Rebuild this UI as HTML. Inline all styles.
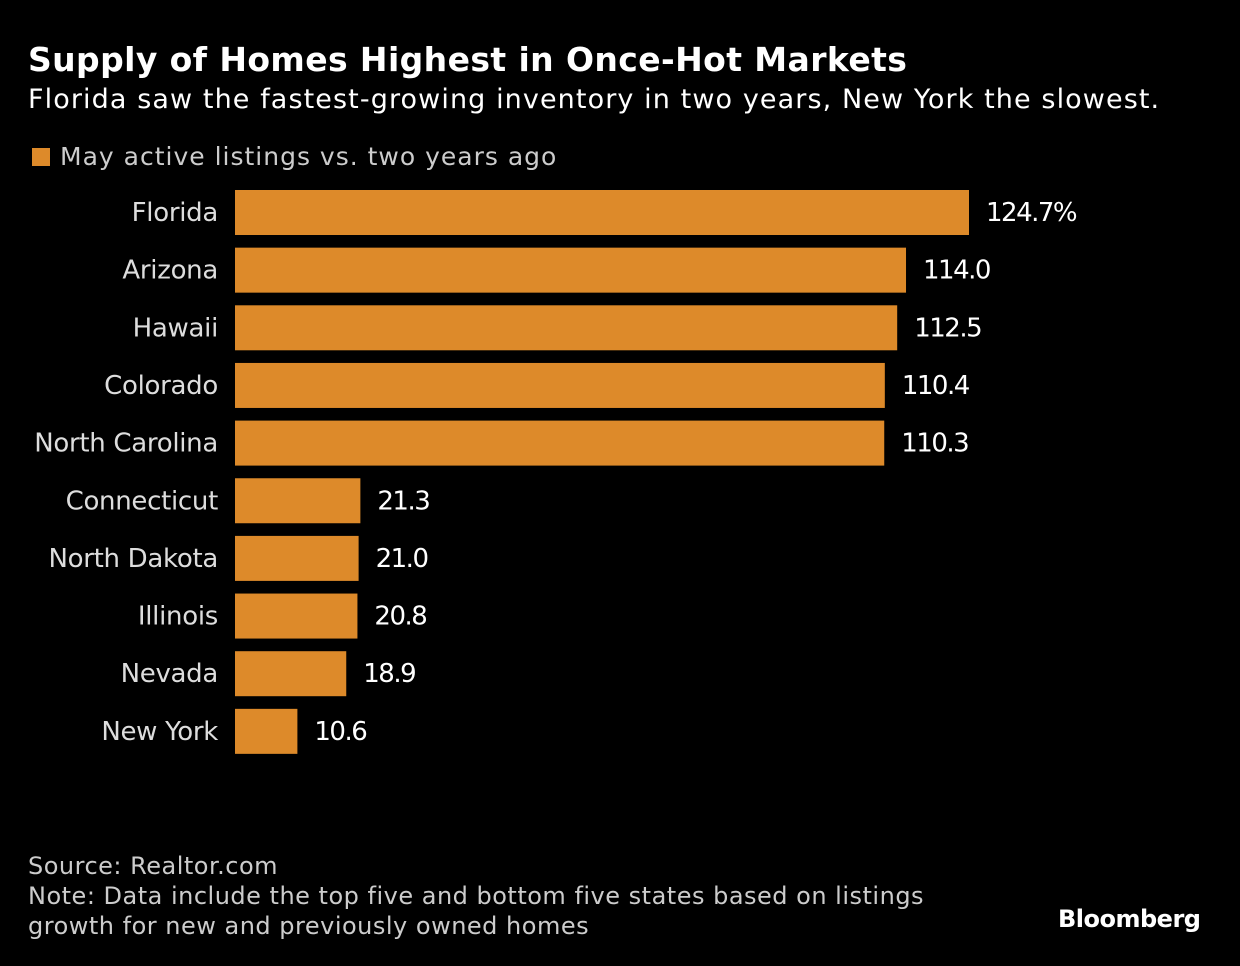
<!DOCTYPE html>
<html><head><meta charset="utf-8"><style>
body{margin:0;background:#000;width:1240px;height:966px;overflow:hidden;font-family:"DejaVu Sans","Liberation Sans",sans-serif;color:#fff}
.t{position:absolute;white-space:nowrap}
</style></head><body>
<div class="t" style="left:28px;top:40px;font-size:33px;font-weight:bold;letter-spacing:0.4px">Supply of Homes Highest in Once-Hot Markets</div>
<div class="t" style="left:28px;top:84px;font-size:27px;letter-spacing:1.1px">Florida saw the fastest-growing inventory in two years, New York the slowest.</div>
<div class="t" style="left:32px;top:142px;font-size:25px;color:#ccc;letter-spacing:1px"><span style="display:inline-block;width:18px;height:18px;background:#dd8a2a;margin-right:10px;vertical-align:-1px"></span>May active listings vs. two years ago</div>
<svg id="c" width="1240" height="966" style="position:absolute;left:0;top:0"></svg>
<div class="t" style="left:28px;top:851px;font-size:24px;line-height:30px;color:#ccc;letter-spacing:0.5px">Source: Realtor.com<br>Note: Data include the top five and bottom five states based on listings<br>growth for new and previously owned homes</div>
<div class="t" style="left:1058px;top:905px;font-size:24px;font-weight:bold;letter-spacing:-0.5px">Bloomberg</div>
<script>
const categories=["Florida","Arizona","Hawaii","Colorado","North Carolina","Connecticut","North Dakota","Illinois","Nevada","New York"];
const values=[124.7,114.0,112.5,110.4,110.3,21.3,21.0,20.8,18.9,10.6];
const labels=["124.7%","114.0","112.5","110.4","110.3","21.3","21.0","20.8","18.9","10.6"];
const svg=document.getElementById('c');const NS='http://www.w3.org/2000/svg';
const x0=235,k=734/124.7;
const x=v=>x0+v*k;
const y=i=>190+i*57.65;
categories.forEach((c,i)=>{
 const r=document.createElementNS(NS,'rect');
 
 
 r.setAttribute('x',x0);r.setAttribute('y',y(i));r.setAttribute('width',x(values[i])-x0);r.setAttribute('height',45);r.setAttribute('fill','#dd8a2a');svg.appendChild(r);
 const t=document.createElementNS(NS,'text');
 
 
 t.setAttribute('x',218);t.setAttribute('y',y(i)+31);t.setAttribute('text-anchor','end');t.setAttribute('fill','#ddd');t.setAttribute('font-size','26');t.setAttribute('letter-spacing','-0.3');t.textContent=c;svg.appendChild(t);
 const v=document.createElementNS(NS,'text');
 
 
 v.setAttribute('x',x(values[i])+17);v.setAttribute('y',y(i)+31);v.setAttribute('fill','#fff');v.setAttribute('font-size','26');v.setAttribute('letter-spacing','-1.5');v.textContent=labels[i];svg.appendChild(v);
});
</script>
</body></html>
